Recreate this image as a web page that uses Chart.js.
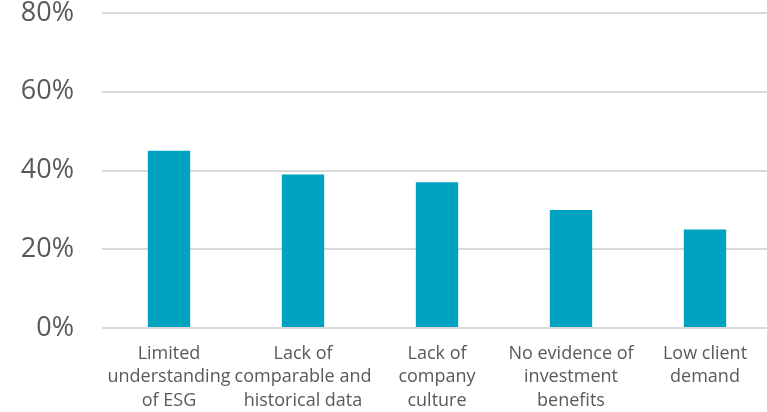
<!DOCTYPE html>
<html>
<head>
<meta charset="utf-8">
<script src="https://cdn.jsdelivr.net/npm/chart.js@4/dist/chart.umd.min.js"></script>
<style>
  html, body { margin: 0; padding: 0; background: #fff; overflow: hidden; }
  #wrap { width: 772px; height: 412px; }
</style>
</head>
<body>
<div id="wrap"><canvas id="grafico" width="772" height="412"></canvas></div>
<script>
// categories (multi-line labels as in the original)
var categorias = [
	["Limited", "understanding", "of ESG"],
	["Lack of", "comparable and", "historical data"],
	["Lack of", "company", "culture"],
	["No evidence of", "investment", "benefits"],
	["Low client", "demand"]
];
// share of respondents, %
var valores = [45, 39, 37, 30, 25];
var ticksY = [0, 20, 40, 60, 80];

var ctx = document.getElementById("grafico");

var chartdata = {
	labels: categorias,
	datasets: [{
		data: valores,
		backgroundColor: '#00A3BF',
		borderWidth: 0,
		barPercentage: 0.316,
		categoryPercentage: 1
	}]
};

var barGraph = new Chart(ctx, {
	type: 'bar',
	data: chartdata,
	options: {
		responsive: false,
		animation: false,
		layout: { padding: { left: 20, right: 0, top: 13, bottom: 0 } },
		plugins: {
			legend: { display: false },
			tooltip: { enabled: false }
		},
		scales: {
			x: {
				grid: { display: false, drawTicks: false },
				border: { display: false },
				afterFit: function(axis) {
					axis.height = 84;
					axis.paddingLeft = 0;
					axis.paddingRight = 0;
				},
				ticks: {
					color: '#595959',
					font: { family: 'Open Sans', size: 18, lineHeight: 1.3 },
					padding: 14,
					maxRotation: 0,
					autoSkip: false
				}
			},
			y: {
				min: 0,
				max: 80,
				afterBuildTicks: function(axis) {
					axis.ticks = ticksY.map(function(v) { return { value: v }; });
				},
				afterFit: function(axis) {
					axis.width = 82;
					axis.paddingTop = 0;
					axis.paddingBottom = 0;
				},
				grid: { color: '#D9D9D9', lineWidth: 2, drawTicks: false },
				border: { display: false },
				ticks: {
					color: '#595959',
					font: { family: 'Open Sans', size: 27 },
					padding: 28,
					callback: function(v) { return v + '%'; }
				}
			}
		}
	}
});
</script>
</body>
</html>
